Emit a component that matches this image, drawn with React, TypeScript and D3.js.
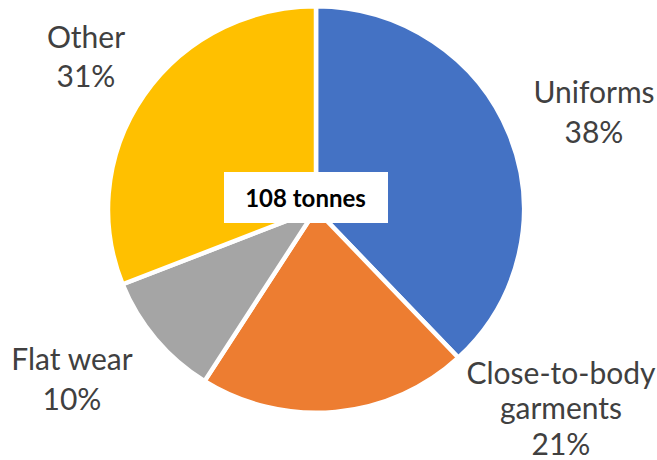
import React from "react";
import * as d3 from "d3";

const categories = ["Uniforms", "Close-to-body garments", "Flat wear", "Other"];
const values = [38, 21, 10, 31];
const colors = ["#4472C4", "#ED7D31", "#A5A5A5", "#FFC000"];
const labelLines = [["Uniforms"], ["Close-to-body", "garments"], ["Flat wear"], ["Other"]];
const centerLabel = "108 tonnes";

// layout (label anchor = first-line baseline centre, line spacing)
const labelPos: [number, number, number][] = [
  [594, 103, 39.5],
  [561, 383.5, 35.5],
  [72, 370, 40],
  [86, 48, 39],
];

const W = 657;
const H = 460;
const cx = 316;
const cy = 209.5;
const R = 208;
const sy = 0.977;

export default function App() {
  const pie = d3.pie<number>().sort(null).value((d) => d)(values);
  const arc = d3.arc<d3.PieArcDatum<number>>().innerRadius(0).outerRadius(R);
  const font = "Lato, 'Noto Sans', sans-serif";
  return (
    <svg
      width={W}
      height={H}
      style={{ position: "absolute", left: 0, top: 0, background: "#fff" }}
    >
      <g transform={`translate(${cx},${cy}) scale(1,${sy})`}>
        {pie.map((p, i) => (
          <path
            key={categories[i]}
            d={arc(p) || ""}
            fill={colors[i]}
            stroke="#fff"
            strokeWidth={4.5}
            strokeLinejoin="round"
          />
        ))}
      </g>
      {labelLines.map((lines, i) => {
        const [x, y, lh] = labelPos[i];
        const all = [...lines, `${values[i]}%`];
        return (
          <text
            key={categories[i]}
            x={x}
            y={y}
            textAnchor="middle"
            fontFamily={font}
            fontSize={30}
            fill="#404040"
          >
            {all.map((t, j) => (
              <tspan key={j} x={x} dy={j === 0 ? 0 : lh}>
                {t}
              </tspan>
            ))}
          </text>
        );
      })}
      <rect x={224} y={172} width={164} height={51} fill="#fff" />
      <text
        x={305.5}
        y={206.5}
        textAnchor="middle"
        fontFamily={font}
        fontSize={24}
        fontWeight="bold"
        fill="#000"
      >
        {centerLabel}
      </text>
    </svg>
  );
}
